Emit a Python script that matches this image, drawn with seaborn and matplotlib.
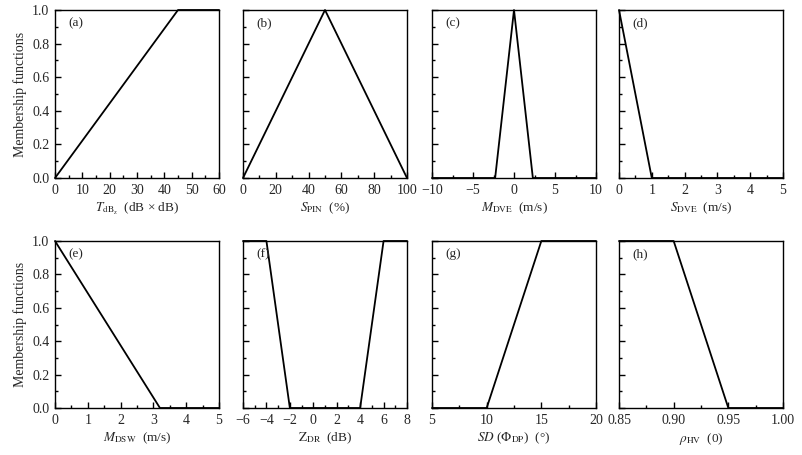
import numpy as np
import pandas as pd
import matplotlib
matplotlib.use("Agg")
import matplotlib.pyplot as plt
from matplotlib.ticker import MultipleLocator
import seaborn as sns

# ---- data ----
a_x = [0, 45, 60]; a_y = [0, 1, 1]
b_x = [0, 50, 100]; b_y = [0, 1, 0]
c_x = [-10, -2.3, 0, 2.3, 10]; c_y = [0, 0, 1, 0, 0]
d_x = [0, 1, 5]; d_y = [1, 0, 0]
e_x = [0, 3.2, 5]; e_y = [1, 0, 0]
f_x = [-6, -4, -2, 4, 6, 8]; f_y = [1, 1, 0, 0, 1, 1]
g_x = [5, 10, 15, 20]; g_y = [0, 0, 1, 1]
h_x = [0.85, 0.90, 0.95, 1.00]; h_y = [1, 1, 0, 0]

panel_labels = ["(a)", "(b)", "(c)", "(d)", "(e)", "(f)", "(g)", "(h)"]
xlabels = [r"$T_{\mathrm{dB_z}}$  (dB × dB)", r"$S_{\mathrm{PIN}}$  (%)",
           r"$M_{\mathrm{DVE}}$  (m/s)", r"$S_{\mathrm{DVE}}$  (m/s)",
           r"$M_{\mathrm{DSW}}$  (m/s)", r"$\mathrm{Z}_{\mathrm{DR}}$  (dB)",
           r"$SD$ ($\Phi_{\mathrm{DP}}$)  (°)", r"$\rho_{\mathrm{HV}}$  (0)"]

sns.set_style("ticks")
plt.rcParams["font.family"] = ["Liberation Serif", "DejaVu Serif"]
plt.rcParams["mathtext.fontset"] = "stix"
plt.rcParams["xtick.direction"] = "in"
plt.rcParams["ytick.direction"] = "in"

W, H = 803, 455
fig = plt.figure(figsize=(W / 100, H / 100), dpi=100)

lefts = [55, 243, 432, 619]
width = 164
rows = [(10, 178), (241, 408)]

specs = [
    (a_x, a_y, (0, 60), 10, 5, None),
    (b_x, b_y, (0, 100), 20, 10, None),
    (c_x, c_y, (-10, 10), 5, 2.5, None),
    (d_x, d_y, (0, 5), 1, 0.5, None),
    (e_x, e_y, (0, 5), 1, 0.5, None),
    (f_x, f_y, (-6, 8), 2, 1, None),
    (g_x, g_y, (5, 20), 5, 2.5, None),
    (h_x, h_y, (0.85, 1.0), 0.05, 0.025, "%.2f"),
]

for i, (xs, ys, xlim, maj, mnr, fmt) in enumerate(specs):
    r, c = divmod(i, 4)
    top, bot = rows[r]
    ax = fig.add_axes([lefts[c] / W, 1 - bot / H, width / W, (bot - top) / H])
    df = pd.DataFrame({"x": xs, "y": ys})
    sns.lineplot(data=df, x="x", y="y", ax=ax, color="black", linewidth=1.3,
                 sort=False, clip_on=False)
    ax.set_xlim(*xlim)
    ax.set_ylim(0, 1)
    ax.xaxis.set_major_locator(MultipleLocator(maj))
    ax.xaxis.set_minor_locator(MultipleLocator(mnr))
    ax.yaxis.set_major_locator(MultipleLocator(0.2))
    ax.yaxis.set_minor_locator(MultipleLocator(0.1))
    if fmt:
        ax.xaxis.set_major_formatter(matplotlib.ticker.FormatStrFormatter(fmt))
    ax.tick_params(which="major", length=4, width=1, labelsize=10, color="black", pad=4)
    ax.tick_params(which="minor", length=2.5, width=1, color="black")
    for s in ax.spines.values():
        s.set_linewidth(1.0)
        s.set_color("black")
    ax.set_xlabel(xlabels[i], fontsize=9.5, labelpad=3)
    if c == 0:
        ax.set_ylabel("Membership functions", fontsize=10, labelpad=4)
        ax.yaxis.set_major_formatter(matplotlib.ticker.FormatStrFormatter("%.1f"))
    else:
        ax.set_ylabel("")
        ax.set_yticklabels([])
    ax.text(0.08, 0.92, panel_labels[i], transform=ax.transAxes, fontsize=9.5,
            ha="left", va="center")

fig.savefig("out.png", dpi=100)
